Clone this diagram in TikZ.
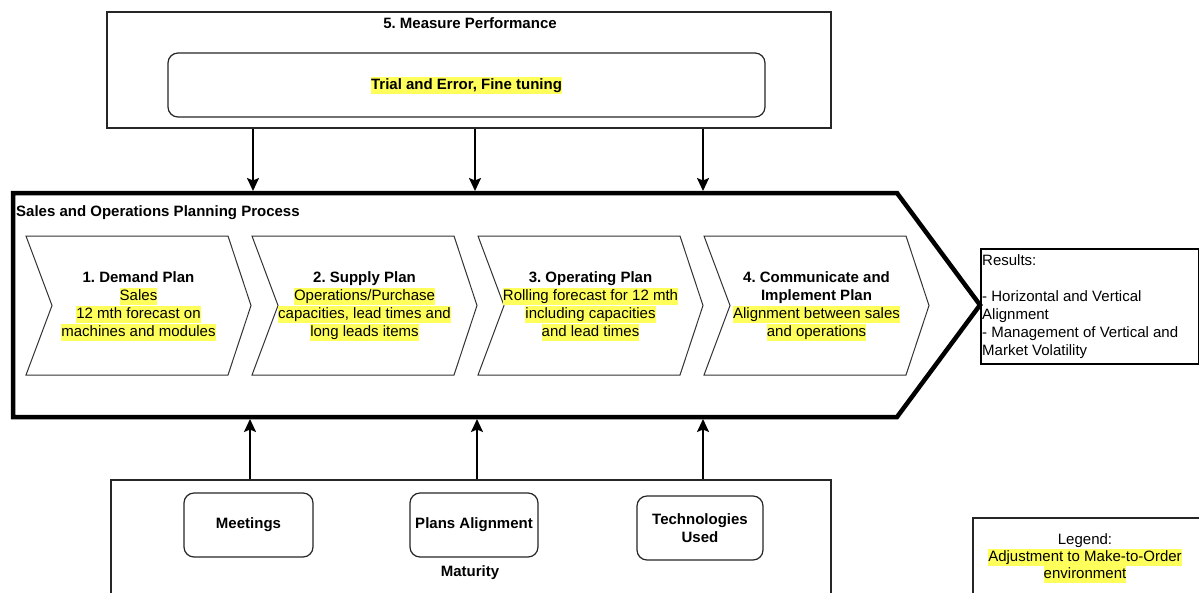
\documentclass[tikz,border=0pt]{standalone}
\usepackage{fontspec}
\setmainfont{Liberation Sans}
\usetikzlibrary{arrows.meta,calc}
\definecolor{hly}{HTML}{FFFF5C}
\newcommand\hlt[1]{{\setlength\fboxsep{0pt}\colorbox{hly}{\rule[-4.5pt]{0pt}{17pt}#1}}}
\frenchspacing
\begin{document}
\frenchspacing
\begin{tikzpicture}[x=1pt,y=-1pt,
  txt/.style={font=\fontsize{15}{18}\selectfont, align=center, inner sep=0pt},
  btxt/.style={font=\fontsize{15}{18}\selectfont\bfseries, align=center, inner sep=0pt},
  box/.style={draw=black!85, line width=2pt},
  rbox/.style={draw=black!85, line width=1.2pt, rounded corners=10pt},
  chev/.style={draw=black!80, line width=1pt},
  flow/.style={line width=2pt, -{Stealth[inset=2.5pt,width=12pt,length=13pt]}},
  big/.style={draw=black, line width=4.5pt, line join=miter}]
\useasboundingbox (0,0) rectangle (1199,592);
\clip (0,0) rectangle (1199,592);
\fill[white] (0,0) rectangle (1199,592);

% top box
\node[box, minimum width=724pt, minimum height=116pt, inner sep=0pt] (measure) at (469,70) {};
\node[btxt] (measuretitle) at (470,23) {5. Measure Performance};
\node[rbox, btxt, minimum width=597pt, minimum height=64pt] (trial) at (466.5,85) {\hlt{Trial and Error, Fine tuning}};

% big process arrow
\coordinate (pA) at (13,193);
\coordinate (pB) at (897,193);
\coordinate (pC) at (980,305);
\coordinate (pD) at (897,417);
\coordinate (pE) at (13,417);
\draw[big] (pA) -- (pB) -- (pC) -- (pD) -- (pE) -- cycle;
\node[btxt, anchor=west] (soptitle) at (16,213) {Sales and Operations Planning Process};

% chevrons
\foreach \L in {26,252,478,704}
  \draw[chev] (\L,236) -- ++(202,0) -- ++(23,69.5) -- ++(-23,69.5) -- ++(-202,0) -- ++(26,-69.5) -- cycle;

\node[txt] (demand) at (138.5,306.5) {\textbf{1. Demand Plan}\\ \hlt{Sales}\\ \hlt{12 mth forecast on}\\ \hlt{machines and modules}};
\node[txt] (supply) at (364.5,306.5) {\textbf{2. Supply Plan}\\ \hlt{Operations/Purchase}\\ \hlt{capacities, lead times and}\\ \hlt{long leads items}};
\node[txt] (operating) at (590.5,306.5) {\textbf{3. Operating Plan}\\ \hlt{Rolling forecast for 12 mth}\\ \hlt{including capacities}\\ \hlt{and lead times}};
\node[txt] (communicate) at (816.5,306.5) {\textbf{4. Communicate and}\\ \textbf{Implement Plan}\\ \hlt{Alignment between sales}\\ \hlt{and operations}};

% down arrows
\coordinate (d1) at (253,191);
\coordinate (d2) at (475,191);
\coordinate (d3) at (703,191);
\draw[flow] (measure.south -| d1) -- (d1);
\draw[flow] (measure.south -| d2) -- (d2);
\draw[flow] (measure.south -| d3) -- (d3);

% results
\node[draw=black, line width=2pt, minimum width=218pt, minimum height=115pt, anchor=north west, inner sep=0pt] (results) at (980,248) {};
\node[txt, align=left, anchor=north west] (restext) at (982,254) {Results:\\ \mbox{}\\ - Horizontal and Vertical\\ Alignment\\ - Management of Vertical and\\ Market Volatility};

% bottom box
\node[box, minimum width=720pt, minimum height=160pt, anchor=north west, inner sep=0pt] (maturitybox) at (110,479) {};
\coordinate (u1) at (250,419);
\coordinate (u2) at (477,419);
\coordinate (u3) at (703,419);
\draw[flow] (maturitybox.north -| u1) -- (u1);
\draw[flow] (maturitybox.north -| u2) -- (u2);
\draw[flow] (maturitybox.north -| u3) -- (u3);

\node[rbox, btxt, minimum width=129pt, minimum height=64pt] (meet) at (248.5,525) {Meetings};
\node[rbox, btxt, minimum width=128pt, minimum height=64pt] (plans) at (474,525) {Plans Alignment};
\node[rbox, btxt, minimum width=126pt, minimum height=64pt] (tech) at (700,528) {Technologies\\Used};
\node[btxt] (maturity) at (470,573) {Maturity};

% legend
\node[box, minimum width=260pt, minimum height=100pt, anchor=north west, inner sep=0pt] (legendbox) at (972,517) {};
\node[txt, font=\fontsize{15}{17}\selectfont] (legend) at (1085,558) {Legend:\\ \hlt{Adjustment to Make-to-Order}\\ \hlt{environment}};
\end{tikzpicture}
\end{document}
